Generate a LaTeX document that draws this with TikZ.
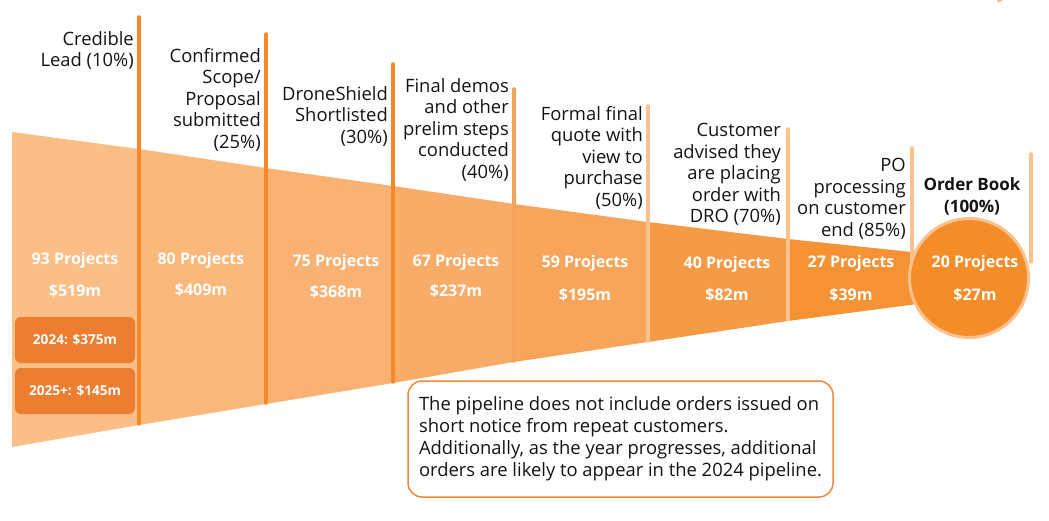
\documentclass[tikz,border=0pt]{standalone}
\usepackage{fontspec}
\setmainfont{Open Sans}

\definecolor{segA}{HTML}{FBBE86}
\definecolor{segB}{HTML}{FAB87B}
\definecolor{segC}{HTML}{F9B273}
\definecolor{segD}{HTML}{F8AC68}
\definecolor{segE}{HTML}{F7A55B}
\definecolor{segF}{HTML}{F69B45}
\definecolor{segG}{HTML}{F59234}
\definecolor{bookfill}{HTML}{F48C28}
\definecolor{pale}{HTML}{FBC28F}
\definecolor{darkline}{HTML}{F5892A}
\definecolor{midline}{HTML}{F6A25A}
\definecolor{splitfill}{HTML}{ED7D31}
\definecolor{noteline}{HTML}{F0883E}
\definecolor{ink}{HTML}{141414}

\begin{document}
\begin{tikzpicture}[x=1pt,y=-1pt,
  stage/.style={anchor=north east, align=right, inner sep=0pt, text=ink,
    font=\fontsize{18.4}{21.5}\selectfont},
  count/.style={anchor=base, inner sep=0pt, text=white,
    font=\fontsize{16}{18}\selectfont\bfseries},
  split/.style={rounded corners=6pt, fill=splitfill, text=white,
    minimum width=120pt, minimum height=46pt, inner sep=0pt,
    font=\fontsize{13.6}{15}\selectfont\bfseries},
  divider/.style={line width=3.5pt, line cap=round},
  note/.style={draw=noteline, line width=1.5pt, rounded corners=14pt, fill=white,
    minimum width=425pt, minimum height=116pt, align=left, text=ink,
    font=\fontsize{18.4}{22}\selectfont}]
\useasboundingbox (0,0) rectangle (1049,521);

\fill[segA] (12,132) -- (139,149) -- (139,425) -- (12,447) -- cycle;
\fill[segB] (139,149) -- (266,168) -- (266,404) -- (139,425) -- cycle;
\fill[segC] (266,168) -- (393,186) -- (393,383) -- (266,404) -- cycle;
\fill[segD] (393,186) -- (514,204) -- (514,362) -- (393,383) -- cycle;
\fill[segE] (514,204) -- (648,222) -- (648,342) -- (514,362) -- cycle;
\fill[segF] (648,222) -- (788,239) -- (788,321) -- (648,342) -- cycle;
\fill[segG] (788,239) -- (940,255) -- (940,301) -- (788,321) -- cycle;

\draw[divider, darkline] (139,17) -- (139,424);
\draw[divider, darkline] (266,34) -- (266,403);
\draw[divider, darkline] (393,64) -- (393,382);
\draw[divider, midline] (514,89) -- (514,361);
\draw[divider, pale] (648,106) -- (648,341);
\draw[divider, pale] (788,129) -- (788,320);
\draw[divider, pale] (912,148) -- (912,290);
\draw[divider, pale] (1031,154) -- (1031,262);

\node[circle, fill=bookfill, draw=pale, line width=3pt, minimum size=119pt, inner sep=0pt] (book) at (969,278) {};

\fill[pale] (997,0) -- (1003,0) -- (998,3) -- cycle;

\node[stage] (lead) at (134,31) {Credible\\Lead (10\%)};
\node[stage] (scope) at (261,48) {Confirmed\\Scope/\\Proposal\\submitted\\(25\%)};
\node[stage] (short) at (388,86) {DroneShield\\Shortlisted\\(30\%)};
\node[stage] (demos) at (509,78) {Final demos\\and other\\prelim steps\\conducted\\(40\%)};
\node[stage] (quote) at (643,106) {Formal final\\quote with\\view to\\purchase\\(50\%)};
\node[stage] (advised) at (781,123) {Customer\\advised they\\are placing\\order with\\DRO (70\%)};
\node[stage] (po) at (906,158) {PO\\processing\\on customer\\end (85\%)};
\node[anchor=north, align=center, inner sep=0pt, text=ink, font=\fontsize{17}{22}\selectfont\bfseries] (booklabel) at (972,177) {Order Book\\(100\%)};

\node[count] (n1) at (75,265) {93 Projects};
\node[count] (v1) at (75,297) {\$519m};
\node[count] (n2) at (201,265) {80 Projects};
\node[count] (v2) at (201,295) {\$409m};
\node[count] (n3) at (336,266) {75 Projects};
\node[count] (v3) at (336,298) {\$368m};
\node[count] (n4) at (456,266) {67 Projects};
\node[count] (v4) at (456,297) {\$237m};
\node[count] (n5) at (585,268) {59 Projects};
\node[count] (v5) at (585,300) {\$195m};
\node[count] (n6) at (727,269) {40 Projects};
\node[count] (v6) at (727,301) {\$82m};
\node[count] (n7) at (851,268) {27 Projects};
\node[count] (v7) at (851,300) {\$39m};
\node[count] (n8) at (975,268) {20 Projects};
\node[count] (v8) at (975,300) {\$27m};

\node[split] (y24) at (75,340) {2024: \$375m};
\node[split] (y25) at (75,391) {2025+: \$145m};

\node[note] (remark) at (620.5,439) {The pipeline does not include orders issued on\\short notice from repeat customers.\\Additionally, as the year progresses, additional\\orders are likely to appear in the 2024 pipeline.};
\end{tikzpicture}
\end{document}
